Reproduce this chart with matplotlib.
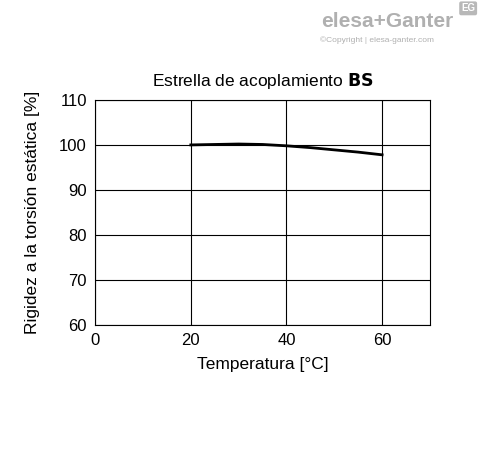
import matplotlib.pyplot as plt

plt.rcParams['font.family'] = ['Liberation Sans', 'DejaVu Sans']

temperatura = [20, 25, 30, 35, 40, 45, 50, 55, 60]
rigidez = [100.0, 100.1, 100.2, 100.1, 99.8, 99.4, 98.9, 98.4, 97.8]

fig = plt.figure(figsize=(4.88, 4.54), dpi=100)
ax = fig.add_axes([0.195, 0.284, 0.686, 0.496])
ax.plot(temperatura, rigidez, color='black', linewidth=2)
ax.set_xlim(0, 70)
ax.set_ylim(60, 110)
ax.set_xticks([0, 20, 40, 60])
ax.set_yticks(range(60, 111, 10))
ax.grid(True, color='black', linewidth=0.8)
for s in ax.spines.values():
    s.set_linewidth(0.8)
ax.tick_params(labelsize=12, length=0, pad=6)
ax.set_xlabel('Temperatura [°C]', fontsize=12.5, labelpad=6)
ax.set_ylabel('Rigidez a la torsión estática [%]', fontsize=12.5, labelpad=14)
ax.set_title('Estrella de acoplamiento $\\bf{BS}$', fontsize=12.5, pad=10)

fig.text(0.93, 0.94, 'elesa+Ganter', ha='right', fontsize=15, color='#b0b0b0', weight='bold')
fig.text(0.655, 0.907, '©Copyright | elesa-ganter.com', fontsize=6, color='#b0b0b0')
fig.text(0.945, 0.975, 'EG', fontsize=7, color='white', weight='bold',
         bbox=dict(boxstyle='round,pad=0.2', fc='#b8b8b8', ec='none'))
fig.savefig('out.png', dpi=100)
